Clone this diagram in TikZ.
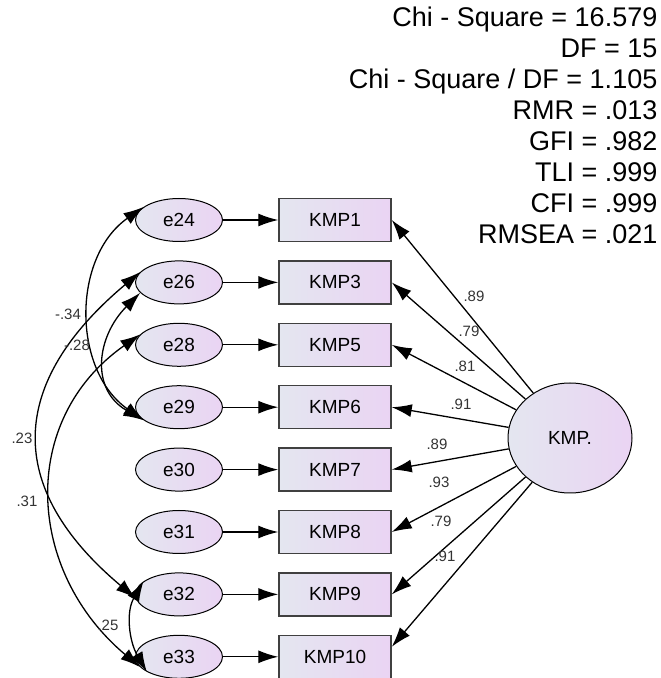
\documentclass[tikz,border=0pt]{standalone}
\usepackage{fontspec}
\setmainfont{Liberation Sans}
\usepackage{tikz}
\usetikzlibrary{arrows.meta}
\usetikzlibrary{shapes.geometric}
\definecolor{shadeleft}{RGB}{228,230,240}
\definecolor{shaderight}{RGB}{234,212,243}
\tikzset{err/.style = {ellipse, draw, line width = 1pt, left color = shadeleft, right color = shaderight,
                       minimum width = 87pt, minimum height = 43pt, inner sep = 0,
                       font = \fontsize{19}{19}\selectfont}}
\tikzset{obs/.style = {rectangle, draw = black!75, line width = 1.5pt, left color = shadeleft, right color = shaderight,
                       minimum width = 112pt, minimum height = 43pt, inner sep = 0,
                       font = \fontsize{19}{19}\selectfont}}
\tikzset{lat/.style = {ellipse, draw, line width = 1pt, left color = shadeleft, right color = shaderight,
                       minimum width = 124pt, minimum height = 110pt, inner sep = 0,
                       font = \fontsize{19}{19}\selectfont}}
\tikzset{lbl/.style = {inner sep = 0, text = black!80, font = \fontsize{15}{15}\selectfont}}
\tikzset{stat/.style = {inner sep = 0, anchor = base east, font = \fontsize{27}{27}\selectfont}}

\begin{document}
\begin{tikzpicture}[x = 1pt, y = 1pt, line width = 1.3pt, >={Latex[length=20pt, width=13pt]}]
    \useasboundingbox (0, 0) rectangle (661, 678);

    % fit indices
    \foreach \t [count = \i] in {{Chi - Square = 16.579}, {DF = 15}, {Chi - Square / DF = 1.105},
                                 {RMR = .013}, {GFI = .982}, {TLI = .999}, {CFI = .999}, {RMSEA = .021}}
        \node [stat] (stat\i) at (658, {651 - 31*(\i - 1)}) {\t};

    % error terms and indicators
    \foreach \e/\k/\n [count = \i] in {e24/KMP1/1, e26/KMP3/3, e28/KMP5/5, e29/KMP6/6,
                                       e30/KMP7/7, e31/KMP8/8, e32/KMP9/9, e33/KMP10/10} {
        \node [err] (\e) at (179, {458 - 62.4*(\i - 1)}) {\e};
        \node [obs] (k\n) at (335, {458 - 62.4*(\i - 1)}) {\k};
        \draw [->] (\e) -- (k\n);
    }

    % latent factor and loadings
    \node [lat] (kmp) at (570, 240) {KMP.};
    \foreach \n/\a/\v/\lx/\ly in {1/east/.89/474/382, 3/east/.79/469/347, 5/east/.81/465/312,
                                  6/east/.91/461/274, 7/east/.89/437/234, 8/east/.93/439/196,
                                  9/east/.79/441/157, 10/10/.91/445/122} {
        \draw [->] (kmp) -- (k\n.\a);
        \node [lbl] (l\n) at (\lx, \ly) {\v};
    }

    % covariances
    \draw [<->] (e24.160) to [out = 215, in = 145, looseness = 1.05] (e29.200);
    \draw [<->] (e26.195) to [out = 225, in = 150, looseness = 1.24] (e29.200);
    \draw [<->] (e26.165) to [out = 220, in = 140, looseness = 1.35] (e32.185);
    \draw [<->] (e28.165) to [out = 215, in = 140, looseness = 1.15] (e33.195);
    \draw [<->] (e32.160) to [out = 240, in = 120] (e33.205);

    \node [lbl] (c1) at (68, 364) {-.34};
    \node [lbl] (c2) at (77, 333) {-.28};
    \node [lbl] (c3) at (22, 240) {.23};
    \node [lbl] (c4) at (27, 177) {.31};
    \node [lbl] (c5) at (108, 53) {.25};
\end{tikzpicture}
\end{document}
